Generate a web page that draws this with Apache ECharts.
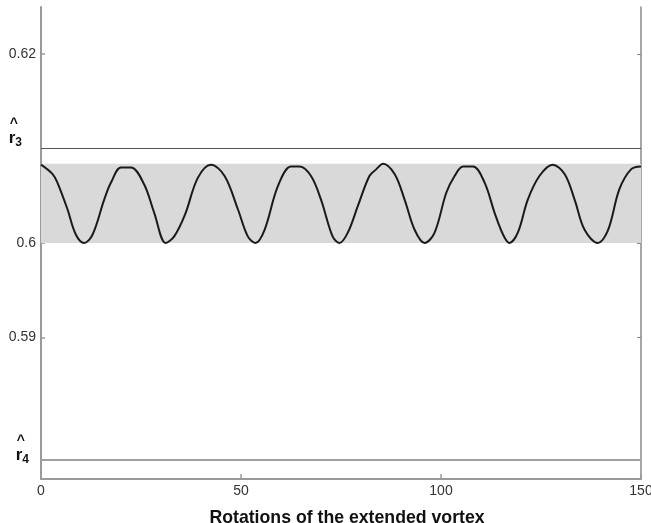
<!DOCTYPE html>
<html>
<head>
<meta charset="UTF-8">
<title>Rotations of the extended vortex</title>
<style type="text/css">
  html, body { margin: 0; padding: 0; background: #fff; }
  #main { width: 651px; height: 523px; }
</style>
</head>
<body>
<div id="main"></div>
<script src="https://cdn.jsdelivr.net/npm/echarts@6/dist/echarts.min.js"></script>
<script type="text/javascript">
// rotation number (x) and radius (y)
var rotations = [0, 2.9, 4.1, 6.6, 8.7, 10.8, 12.9, 15.8, 17.5, 20, 22.5, 25.8, 28.3, 31.2, 33.3, 36,
  39.2, 42.5, 45.9, 49.2, 51.7, 53.6, 55.9, 59.2, 62.5, 64.6, 67.5, 70, 72.9, 74.6, 76.7, 79.2,
  82.1, 83.8, 85.5, 88.4, 90.9, 93.4, 95.9, 98.4, 101.3, 103.4, 105.5, 108, 110.9, 113.4, 115.5,
  117.1, 119.2, 121.7, 124.6, 127.9, 130.9, 133.4, 135.9, 139.2, 141.7, 144.6, 147.5, 150];
var radius = [0.6083, 0.6073, 0.6064, 0.6036, 0.6009, 0.6000, 0.6009, 0.6046, 0.6064, 0.6080, 0.6080,
  0.6062, 0.6032, 0.6000, 0.6007, 0.6030, 0.6069, 0.6083, 0.6071, 0.6036, 0.6007, 0.6000, 0.6014,
  0.6060, 0.6081, 0.6081, 0.6071, 0.6046, 0.6007, 0.6000, 0.6011, 0.6039, 0.6071, 0.6078, 0.6084,
  0.6073, 0.6046, 0.6014, 0.6000, 0.6011, 0.6053, 0.6071, 0.6081, 0.6081, 0.6064, 0.6032, 0.6009,
  0.6000, 0.6011, 0.6046, 0.6071, 0.6083, 0.6073, 0.6046, 0.6014, 0.6000, 0.6013, 0.6057, 0.6078,
  0.6081];

// reference levels and the shaded band
var r3 = 0.61;
var r4 = 0.577;
var bandLow = 0.6;
var bandHigh = 0.6084;

// tick labels
var yTicks = [0.59, 0.6, 0.62];
var yLabelValues = [r4, 0.59, 0.6, r3, 0.62];

var points = rotations.map(function (x, i) { return [x, radius[i]]; });

var myChart = echarts.init(document.getElementById('main'));
var font = 'Liberation Sans, Arial, sans-serif';

var option = {
  animation: false,
  textStyle: { fontFamily: font },
  grid: { left: 41, right: 10, top: 7, bottom: 44, containLabel: false, outerBoundsMode: 'none' },
  xAxis: {
    type: 'value',
    min: 0, max: 150, interval: 50,
    name: 'Rotations of the extended vortex',
    nameLocation: 'middle',
    nameGap: 30,
    nameTextStyle: { fontSize: 17.7, fontWeight: 'bold', color: '#111', fontFamily: font, padding: [0, 0, 0, 12] },
    axisLine: { lineStyle: { color: '#9a9a9a', width: 2 } },
    axisTick: { inside: true, length: 5, lineStyle: { color: '#9a9a9a', width: 1.5 } },
    axisLabel: { fontSize: 14, color: '#333', margin: 5, fontFamily: font },
    splitLine: { show: false }
  },
  yAxis: [{
    type: 'value',
    min: 0.575, max: 0.625,
    axisLine: { show: true, lineStyle: { color: '#9a9a9a', width: 2 } },
    axisTick: { show: true, inside: true, length: 4, customValues: yTicks, lineStyle: { color: '#9a9a9a', width: 1.5 } },
    axisLabel: {
      customValues: yLabelValues,
      margin: 5,
      fontSize: 14,
      color: '#333',
      fontFamily: font,
      formatter: function (v) {
        if (Math.abs(v - r3) < 1e-6) return '{hat|^}\n{h|r}{s3|3}\n{g3| }';
        if (Math.abs(v - r4) < 1e-6) return '{hat|^}\n{h|r}{s4|4}\n{g4| }';
        return '{n|' + v + '}';
      },
      rich: {
        n: { fontSize: 14, color: '#333', fontFamily: font },
        hat: { fontSize: 14, fontWeight: 'bold', color: '#111', fontFamily: font, lineHeight: 7, align: 'left', padding: [0, 0, 0, 1] },
        h: { fontSize: 17, fontWeight: 'bold', color: '#111', fontFamily: font, lineHeight: 14 },
        s3: { fontSize: 12, fontWeight: 'bold', color: '#111', fontFamily: font, padding: [9, 14, 0, 0] },
        s4: { fontSize: 12, fontWeight: 'bold', color: '#111', fontFamily: font, padding: [9, 7, 0, 0] },
        g3: { fontSize: 1, lineHeight: 28 },
        g4: { fontSize: 1, lineHeight: 16 }
      }
    },
    splitLine: { show: false }
  }, {
    type: 'value',
    position: 'right',
    min: 0.575, max: 0.625,
    axisLine: { show: true, lineStyle: { color: '#8a8a8a', width: 1.5 } },
    axisTick: { show: true, inside: true, length: 4, customValues: yTicks, lineStyle: { color: '#8a8a8a', width: 1 } },
    axisLabel: { show: false },
    splitLine: { show: false }
  }],
  series: [{
    type: 'line',
    data: points,
    smooth: 0.35,
    showSymbol: false,
    lineStyle: { color: '#1a1a1a', width: 2 },
    markArea: {
      silent: true,
      itemStyle: { color: '#d9d9d9' },
      data: [[{ yAxis: bandLow }, { yAxis: bandHigh }]]
    },
    markLine: {
      silent: true,
      symbol: 'none',
      precision: 4,
      label: { show: false },
      data: [
        { yAxis: r3, lineStyle: { color: '#555', width: 1.2, type: 'solid' } },
        { yAxis: r4, lineStyle: { color: '#a0a0a0', width: 2, type: 'solid' } }
      ]
    }
  }]
};
myChart.setOption(option);
</script>
</body>
</html>
